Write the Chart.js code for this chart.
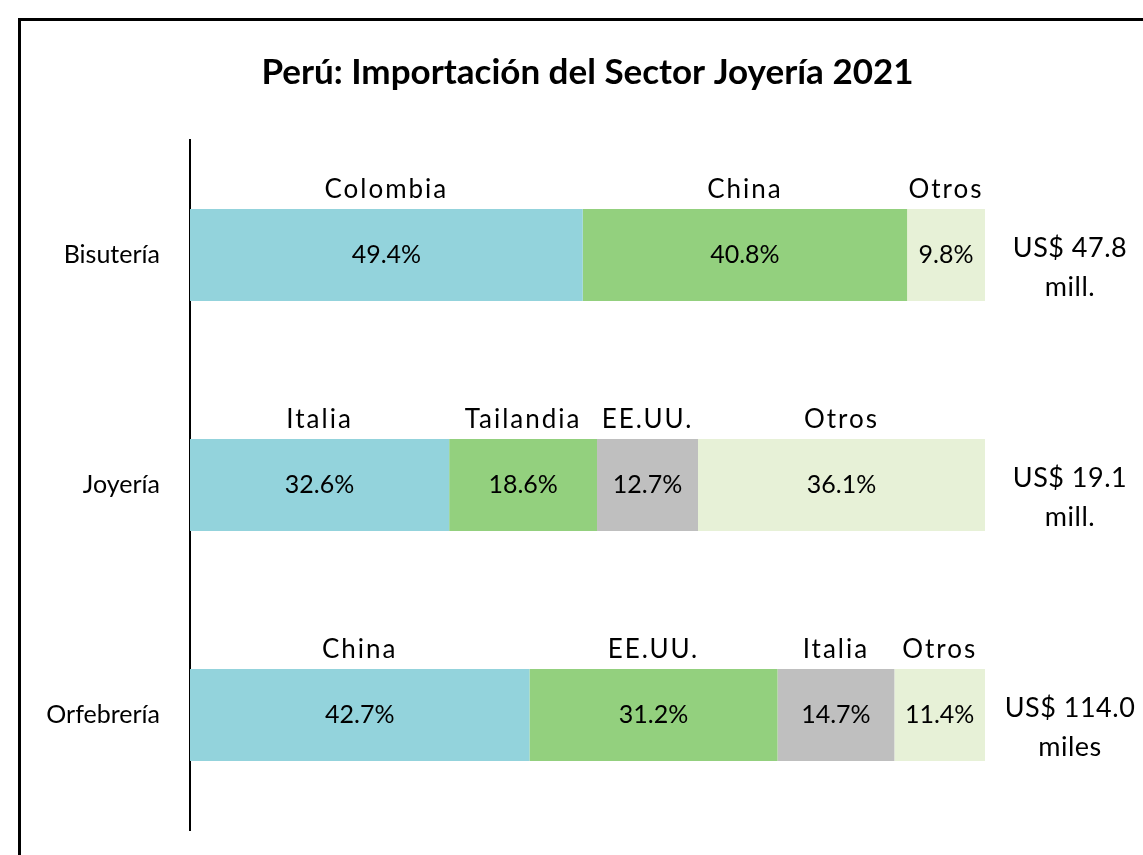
<!DOCTYPE html>
<html>
<head>
<meta charset="utf-8">
<script src="https://cdn.jsdelivr.net/npm/chart.js@4"></script>
<style>
  html, body { margin: 0; padding: 0; background: #fff; overflow: hidden; }
  #marco { position: absolute; left: 18px; top: 18px; width: 1300px; height: 1000px; border: 3px solid #000; }
  #grafico { position: absolute; left: 0; top: 0; }
</style>
</head>
<body>
<div id="marco"></div>
<canvas id="grafico" width="1143" height="855"></canvas>
<script>
// datos del grafico
const categorias = ['Bisutería', 'Joyería', 'Orfebrería'];
const serie1 = [49.4, 32.6, 42.7];
const serie2 = [40.8, 18.6, 31.2];
const serie3 = [0, 12.7, 14.7];
const serie4 = [9.8, 36.1, 11.4];
const nombres1 = ['Colombia', 'Italia', 'China'];
const nombres2 = ['China', 'Tailandia', 'EE.UU.'];
const nombres3 = ['', 'EE.UU.', 'Italia'];
const nombres4 = ['Otros', 'Otros', 'Otros'];
const totales = ['US$ 47.8', 'US$ 19.1', 'US$ 114.0'];
const unidades = ['mill.', 'mill.', 'miles'];

const nombres = [nombres1, nombres2, nombres3, nombres4];
const fuente = 'Lato, "Open Sans", sans-serif';

// etiquetas de paises, porcentajes y totales
const etiquetas = {
    id: 'etiquetas',
    afterDatasetsDraw(chart) {
        const ctx = chart.ctx;
        ctx.save();
        ctx.fillStyle = '#000';
        ctx.textAlign = 'center';
        ctx.textBaseline = 'middle';
        chart.data.datasets.forEach((ds, i) => {
            const meta = chart.getDatasetMeta(i);
            meta.data.forEach((bar, j) => {
                const v = ds.data[j];
                if (!v) return;
                const cx = (bar.x + bar.base) / 2;
                ctx.font = '25px ' + fuente;
                ctx.letterSpacing = '0px';
                ctx.fillText(v.toFixed(1) + '%', cx, bar.y);
                ctx.letterSpacing = '2px';
                ctx.font = '26px ' + fuente;
                ctx.fillText(nombres[i][j], cx, bar.y - bar.height / 2 - 19);
            });
        });
        const meta0 = chart.getDatasetMeta(0);
        ctx.letterSpacing = '0.5px';
        ctx.font = '27px ' + fuente;
        meta0.data.forEach((bar, j) => {
            const x = chart.chartArea.right + 85;
            ctx.fillText(totales[j], x, bar.y - 7);
            ctx.fillText(unidades[j], x, bar.y + 32);
        });
        ctx.restore();
    }
};

const ctx = document.getElementById('grafico').getContext('2d');
new Chart(ctx, {
    type: 'bar',
    data: {
        labels: categorias,
        datasets: [
            { data: serie1, backgroundColor: '#93D3DC' },
            { data: serie2, backgroundColor: '#93D07E' },
            { data: serie3, backgroundColor: '#BFBFBF' },
            { data: serie4, backgroundColor: '#E7F1D7' }
        ]
    },
    options: {
        indexAxis: 'y',
        responsive: false,
        animation: false,
        barPercentage: 0.4,
        categoryPercentage: 1,
        layout: {
            padding: { left: 0, right: 158, top: 0, bottom: 25 }
        },
        scales: {
            x: {
                stacked: true,
                min: 0,
                max: 100,
                display: false
            },
            y: {
                stacked: true,
                grid: { display: false },
                border: { display: true, color: '#000', width: 2 },
                ticks: {
                    color: '#000',
                    padding: 22,
                    font: { family: fuente, size: 25 }
                },
                afterFit(scale) {
                    scale.width = 190;
                    scale.paddingTop = 0;
                    scale.paddingBottom = 0;
                }
            }
        },
        plugins: {
            legend: { display: false },
            tooltip: { enabled: false },
            title: {
                display: true,
                fullSize: false,
                text: 'Perú: Importación del Sector Joyería 2021',
                color: '#000',
                font: { family: fuente, size: 35, weight: 'bold', lineHeight: 1.2 },
                padding: { top: 52, bottom: 46 }
            }
        }
    },
    plugins: [etiquetas]
});
</script>
</body>
</html>
